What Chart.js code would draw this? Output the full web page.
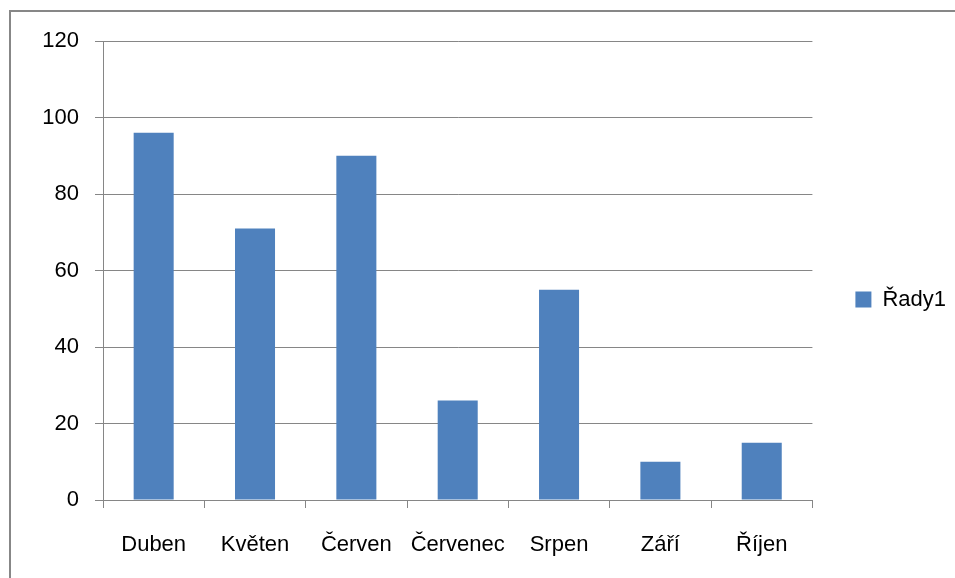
<!DOCTYPE html>
<html>
<head>
<meta charset="utf-8">
<script src="https://cdn.jsdelivr.net/npm/chart.js@4"></script>
<style>
  html, body { margin: 0; padding: 0; background: #fff; }
  #frame { position: absolute; left: 9px; top: 10px; width: 960px; height: 580px;
           border-left: 2px solid #878787; border-top: 2px solid #878787; }
  #wrap { position: absolute; left: 0; top: 0; width: 955px; height: 578px; }
</style>
</head>
<body>
<div id="frame"></div>
<div id="wrap"><canvas id="chart" width="955" height="578"></canvas></div>
<script>
const months = ['Duben', 'Květen', 'Červen', 'Červenec', 'Srpen', 'Září', 'Říjen'];
const rady1 = [96, 71, 90, 26, 55, 10, 15];
const seriesName = 'Řady1';
const yMin = 0, yMax = 120, yStep = 20;

const gray = '#868686';
const font = { family: '"Liberation Sans", Arial, sans-serif', size: 22 };

new Chart(document.getElementById('chart'), {
  type: 'bar',
  data: {
    labels: months,
    datasets: [{
      label: seriesName,
      data: rady1,
      backgroundColor: '#4F81BD',
      borderWidth: 0,
      categoryPercentage: 1,
      barPercentage: 0.395
    }]
  },
  options: {
    responsive: false,
    animation: false,
    layout: { padding: { left: 0, top: 41, right: -1, bottom: 20 } },
    plugins: {
      tooltip: { enabled: false },
      legend: {
        position: 'right',
        labels: { boxWidth: 16, boxHeight: 16, padding: 43, color: '#000', font }
      }
    },
    scales: {
      x: {
        grid: { drawOnChartArea: false, drawTicks: true, tickLength: 8, color: gray },
        border: { display: true, color: gray },
        ticks: { color: '#000', font, padding: 24, maxRotation: 0, autoSkip: false },
        afterFit: (s) => { s.height = 58; }
      },
      y: {
        min: yMin, max: yMax,
        grid: { color: gray, tickLength: 8 },
        border: { display: true, color: gray },
        ticks: { stepSize: yStep, color: '#000', font, padding: 16 },
        afterFit: (s) => { s.width = 103; }
      }
    }
  }
});
</script>
</body>
</html>
